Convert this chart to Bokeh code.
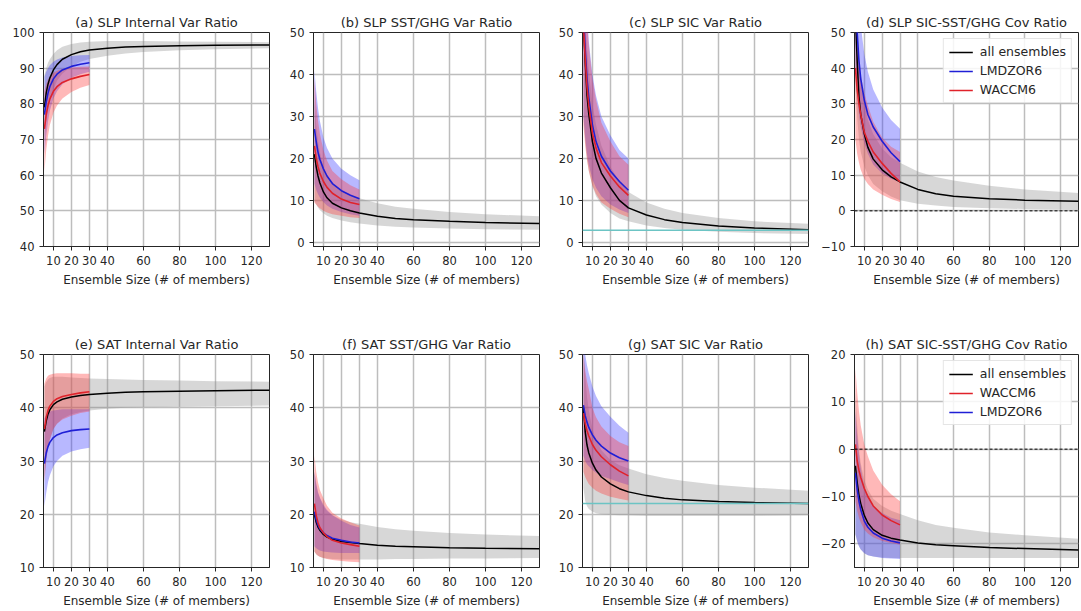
from bokeh.plotting import figure
from bokeh.layouts import row, column
from bokeh.models import FixedTicker, Legend, LegendItem, Span, Range1d
from bokeh.embed import file_html
from bokeh.resources import INLINE

# ---------------- data ----------------
X_ALL = [5, 6, 7, 8, 10, 12, 15, 20, 25, 30, 40, 50, 60, 80, 100, 130]
X_MOD = [5, 6, 7, 8, 10, 12, 15, 20, 25, 30]
X_TICKS = [10, 20, 30, 40, 60, 80, 100, 120]

TITLES = ["(a) SLP Internal Var Ratio", "(b) SLP SST/GHG Var Ratio",
          "(c) SLP SIC Var Ratio", "(d) SLP SIC-SST/GHG Cov Ratio",
          "(e) SAT Internal Var Ratio", "(f) SAT SST/GHG Var Ratio",
          "(g) SAT SIC Var Ratio", "(h) SAT SIC-SST/GHG Cov Ratio"]
X_LABEL = "Ensemble Size (# of members)"
LABEL_ALL = "all ensembles"
LABEL_LMD = "LMDZOR6"
LABEL_WAC = "WACCM6"

Y_RANGES = [(40, 100), (-1, 50), (-1, 50), (-10, 50), (10, 50), (10, 50), (10, 50), (-25, 20)]
Y_TICKS = [[40, 50, 60, 70, 80, 90, 100], [0, 10, 20, 30, 40, 50], [0, 10, 20, 30, 40, 50],
           [-10, 0, 10, 20, 30, 40, 50], [10, 20, 30, 40, 50], [10, 20, 30, 40, 50],
           [10, 20, 30, 40, 50], [-20, -10, 0, 10, 20]]

C_SIC_REF = 2.9
G_SIC_REF = 22.0

# (a) SLP internal
a_all = [79, 83, 85.5, 87.2, 89.5, 91, 92.5, 93.8, 94.6, 95.1, 95.6, 95.9, 96.1, 96.3, 96.4, 96.5]
a_all_hi = [88, 90, 91.5, 92.5, 94, 95, 96, 96.8, 97.2, 97.4, 97.6, 97.6, 97.6, 97.5, 97.4, 97.3]
a_all_lo = [70, 75, 78.5, 81, 84, 86.5, 88.5, 90.5, 91.8, 92.6, 93.5, 94.1, 94.5, 95, 95.3, 95.6]
a_lmd = [77, 80.5, 83, 84.8, 87, 88.3, 89.5, 90.5, 91.1, 91.5]
a_lmd_hi = [87.5, 89, 90, 90.8, 91.8, 92.4, 93, 93.4, 93.6, 93.7]
a_lmd_lo = [66, 71, 75, 78, 81.5, 83.5, 85.5, 87.3, 88.3, 89]
a_wac = [73, 77, 79.5, 81.3, 83.5, 84.8, 86, 87, 87.7, 88.2]
a_wac_hi = [83.5, 85.5, 86.8, 87.6, 88.7, 89.3, 89.8, 90.2, 90.4, 90.5]
a_wac_lo = [61, 67, 71, 74, 77.5, 79.5, 81.5, 83.3, 84.5, 85.3]

# (b) SLP SST/GHG
b_all = [21, 18, 15.8, 14.2, 12, 10.6, 9.3, 8.2, 7.5, 7.0, 6.2, 5.7, 5.4, 5.0, 4.7, 4.5]
b_all_hi = [34, 28, 24, 21.5, 18, 16, 14, 12.3, 11.3, 10.5, 9.3, 8.5, 8.0, 7.2, 6.7, 6.2]
b_all_lo = [10, 9, 8.3, 7.7, 6.9, 6.3, 5.8, 5.2, 4.8, 4.5, 4.0, 3.7, 3.5, 3.3, 3.1, 3.0]
b_lmd = [27, 24, 21.5, 19.8, 17.5, 15.8, 14, 12.3, 11.2, 10.4]
b_lmd_hi = [41, 36, 32, 29, 25, 22.5, 20, 17.5, 16, 14.8]
b_lmd_lo = [14, 12.5, 11.5, 10.7, 9.6, 8.8, 8, 7.2, 6.7, 6.3]
b_wac = [23, 20, 18, 16.5, 14.5, 13.1, 11.7, 10.3, 9.5, 9]
b_wac_hi = [39, 33, 29, 26, 22, 19.5, 17, 15, 13.6, 12.6]
b_wac_lo = [9.5, 9, 8.5, 8.1, 7.5, 7.1, 6.7, 6.3, 6.0, 5.8]

# (c) SLP SIC
c_all = [52, 43, 35, 30.5, 24, 20, 16.5, 13, 10, 8.2, 6.5, 5.4, 4.7, 3.9, 3.4, 3.0]
c_all_hi = [60, 52, 46, 41, 33, 28, 23, 18, 14.5, 12, 9.5, 8, 7, 5.8, 5, 4.4]
c_all_lo = [30, 24, 20, 17, 13.5, 11, 9, 7, 5.7, 5, 4, 3.4, 3, 2.5, 2.2, 2.0]
c_lmd = [55, 46, 39, 34.5, 28, 24, 20.5, 17, 14.5, 12.4]
c_lmd_hi = [70, 62, 55, 48, 40, 35, 30, 25.5, 22, 20]
c_lmd_lo = [30, 25, 21, 18.5, 15, 13, 11, 9, 7.8, 7]
c_wac = [52, 44, 37, 32.5, 26, 22.5, 19, 15.8, 13.2, 11.2]
c_wac_hi = [68, 60, 53, 47, 39, 34, 28.5, 24, 20.5, 18.5]
c_wac_lo = [28, 23, 19.5, 17, 13.5, 11.5, 9.5, 8, 6.8, 6]

# (d) SLP SIC-SST/GHG cov
d_all = [55, 42, 32, 27, 21.5, 17.8, 14.5, 11.5, 9.5, 8.1, 6, 4.8, 4.1, 3.4, 3.0, 2.7]
d_all_hi = [65, 52, 43, 37, 30, 25.5, 21.5, 17.5, 15, 13.5, 11, 9.5, 8.5, 7, 6, 5]
d_all_lo = [35, 26, 20, 16.5, 12.5, 10, 7.5, 5.5, 4, 3, 2, 1.5, 1.1, 0.7, 0.5, 0.3]
d_lmd = [60, 50, 42, 37, 31, 27, 23.5, 19.5, 16.3, 13.8]
d_lmd_hi = [75, 66, 58, 52, 44, 39, 34, 29, 25.5, 23]
d_lmd_lo = [40, 33, 27, 23.5, 19, 16, 13, 10.5, 9, 8]
d_wac = [40, 34, 30, 27, 22, 19.5, 16.5, 13.3, 10.5, 8.1]
d_wac_hi = [55, 48, 42, 38, 33, 29.5, 25, 20.5, 18, 16.5]
d_wac_lo = [20, 16, 13.5, 11.5, 9, 7.5, 6, 4.5, 3.3, 2.5]

# (e) SAT internal
e_all = [35.5, 37.5, 38.8, 39.6, 40.6, 41.1, 41.6, 42, 42.3, 42.5, 42.7, 42.9, 43, 43.1, 43.2, 43.3]
e_all_hi = [44, 44.8, 45.3, 45.6, 45.8, 45.8, 45.8, 45.7, 45.6, 45.5, 45.4, 45.3, 45.2, 45.1, 45, 44.9]
e_all_lo = [27, 30, 32.5, 34, 36, 37, 38, 38.8, 39.2, 39.5, 39.8, 40, 40.1, 40.2, 40.3, 40.4]
e_lmd = [29.5, 31.5, 32.7, 33.5, 34.4, 34.9, 35.3, 35.7, 35.9, 36]
e_lmd_hi = [38, 38.7, 39.1, 39.3, 39.5, 39.6, 39.7, 39.7, 39.7, 39.7]
e_lmd_lo = [21.5, 24, 26, 27.3, 29, 30, 31, 31.8, 32.2, 32.5]
e_wac = [36, 38.2, 39.5, 40.3, 41.2, 41.7, 42.1, 42.5, 42.8, 43]
e_wac_hi = [44.5, 45.5, 46, 46.2, 46.4, 46.5, 46.5, 46.5, 46.4, 46.4]
e_wac_lo = [26, 30, 32.5, 34, 36, 37, 37.8, 38.5, 39, 39.3]

# (f) SAT SST/GHG
f_all = [20, 18.5, 17.6, 17, 16.2, 15.7, 15.3, 14.9, 14.7, 14.5, 14.2, 14.0, 13.9, 13.7, 13.6, 13.5]
f_all_hi = [28, 25.5, 24, 23, 21.5, 20.6, 19.8, 19, 18.5, 18.2, 17.6, 17.2, 16.9, 16.5, 16.2, 15.9]
f_all_lo = [13, 12.5, 12.2, 12, 11.8, 11.7, 11.6, 11.5, 11.5, 11.5, 11.5, 11.6, 11.6, 11.7, 11.7, 11.8]
f_lmd = [20.5, 19, 18, 17.3, 16.5, 16, 15.5, 15.1, 14.8, 14.6]
f_lmd_hi = [28, 25.8, 24.2, 23.2, 21.8, 20.8, 19.8, 18.8, 18, 17.5]
f_lmd_lo = [14, 13.6, 13.4, 13.2, 13, 12.9, 12.8, 12.7, 12.7, 12.7]
f_wac = [22, 19.8, 18.4, 17.5, 16.5, 15.8, 15.1, 14.6, 14.3, 14.0]
f_wac_hi = [31, 28, 26, 24.6, 23, 21.6, 20.3, 19.2, 18.5, 17.9]
f_wac_lo = [13, 12.5, 12.2, 12, 11.8, 11.6, 11.4, 11.2, 11.1, 11.0]

# (g) SAT SIC
g_all = [40, 35.5, 33, 31.5, 29.6, 28.3, 27, 25.7, 24.8, 24.2, 23.5, 23.0, 22.7, 22.4, 22.2, 22.0]
g_all_hi = [52, 46, 42, 39.5, 36, 34, 32, 30.2, 29.2, 28.6, 27.5, 26.8, 26.3, 25.5, 25, 24.4]
g_all_lo = [25, 22.5, 21.5, 21, 20.5, 20.2, 20, 19.9, 19.8, 19.8, 19.7, 19.7, 19.7, 19.7, 19.7, 19.8]
g_lmd = [40.5, 38.5, 37.3, 36.3, 34.9, 33.9, 32.8, 31.5, 30.6, 30]
g_lmd_hi = [52, 50, 48, 46.5, 44, 42.2, 40.3, 38.3, 36.6, 35.3]
g_lmd_lo = [31, 30, 29.4, 29, 28.3, 27.8, 27.2, 26.6, 26, 25.5]
g_wac = [39, 37, 35.7, 34.7, 33.1, 32, 30.8, 29.3, 28.1, 27.2]
g_wac_hi = [50, 47, 45, 43.5, 40, 38.2, 36.5, 34.7, 33.5, 32.8]
g_wac_lo = [28, 27, 26.3, 25.7, 25, 24.4, 23.9, 23.3, 22.9, 22.6]

# (h) SAT SIC-SST/GHG cov
h_all = [-3.5, -7, -9.7, -11.5, -14, -15.6, -17, -18.2, -18.8, -19.2, -19.8, -20.2, -20.4, -20.8, -21, -21.3]
h_all_hi = [12, 5, 0, -3, -6.5, -8.5, -10.5, -12, -13, -13.7, -15, -16, -16.6, -17.6, -18.2, -18.9]
h_all_lo = [-18, -19.5, -20.5, -21.2, -22, -22.4, -22.7, -22.9, -23, -23, -23, -23, -23, -23, -23, -23]
h_lmd = [-5, -8.5, -11, -12.8, -15.2, -16.5, -17.7, -18.8, -19.4, -19.8]
h_lmd_hi = [8, 3, -1, -4, -8, -10, -12, -13.5, -14.5, -15]
h_lmd_lo = [-18, -19.5, -20.5, -21.2, -22, -22.4, -22.7, -23, -23.1, -23.2]
h_wac = [1, -2.5, -4.5, -6, -8.3, -10, -12, -13.9, -15.1, -16]
h_wac_hi = [17, 12, 8, 5, 1, -1.5, -4.5, -7.5, -9.5, -11]
h_wac_lo = [-11, -13, -14.5, -15.5, -17, -17.8, -18.6, -19.4, -19.8, -20.2]

# ---------------- style ----------------
FONT = "DejaVu Sans"
TXT = "#262626"
C_ALL = "black"
C_LMD = "#1f1fd6"
C_WAC = "#e0222a"
F_ALL = "#8c8c8c"
F_LMD = "#3333ff"
F_WAC = "#ff3333"
C_CYAN = "#6cc4c4"

PANELS = [
    (a_all, a_all_lo, a_all_hi, a_lmd, a_lmd_lo, a_lmd_hi, a_wac, a_wac_lo, a_wac_hi),
    (b_all, b_all_lo, b_all_hi, b_lmd, b_lmd_lo, b_lmd_hi, b_wac, b_wac_lo, b_wac_hi),
    (c_all, c_all_lo, c_all_hi, c_lmd, c_lmd_lo, c_lmd_hi, c_wac, c_wac_lo, c_wac_hi),
    (d_all, d_all_lo, d_all_hi, d_lmd, d_lmd_lo, d_lmd_hi, d_wac, d_wac_lo, d_wac_hi),
    (e_all, e_all_lo, e_all_hi, e_lmd, e_lmd_lo, e_lmd_hi, e_wac, e_wac_lo, e_wac_hi),
    (f_all, f_all_lo, f_all_hi, f_lmd, f_lmd_lo, f_lmd_hi, f_wac, f_wac_lo, f_wac_hi),
    (g_all, g_all_lo, g_all_hi, g_lmd, g_lmd_lo, g_lmd_hi, g_wac, g_wac_lo, g_wac_hi),
    (h_all, h_all_lo, h_all_hi, h_lmd, h_lmd_lo, h_lmd_hi, h_wac, h_wac_lo, h_wac_hi),
]

WIDTHS = [278, 270, 270, 262]
B_LEFT = [43, 35, 34, 34]
B_RIGHT = [9, 9, 10, 2]


def minus(v):
    return ("\u2212" + str(abs(v))) if v < 0 else str(v)


def make(i):
    col = i % 4
    top = i < 4
    (y_all, y_all_lo, y_all_hi, y_lmd, y_lmd_lo, y_lmd_hi,
     y_wac, y_wac_lo, y_wac_hi) = PANELS[i]
    p = figure(width=WIDTHS[col], height=308 if top else 303,
               x_range=Range1d(4.5, 130), y_range=Range1d(*Y_RANGES[i]),
               output_backend="svg", toolbar_location=None, title=TITLES[i],
               min_border_left=B_LEFT[col], min_border_right=B_RIGHT[col],
               min_border_top=32 if top else 46, min_border_bottom=62 if top else 44)
    p.title.align = "center"
    p.title.text_font = FONT
    p.title.text_font_size = "13px"
    p.title.text_font_style = "normal"
    p.title.text_color = TXT
    p.title.standoff = 5
    p.outline_line_color = TXT
    p.outline_line_alpha = 1
    p.outline_line_width = 1
    p.background_fill_color = "white"
    p.border_fill_color = "white"

    for ax in (p.xaxis[0], p.yaxis[0]):
        ax.major_label_text_font = FONT
        ax.major_label_text_font_size = "11.5px"
        ax.major_label_text_color = TXT
        ax.axis_line_color = TXT
        ax.major_tick_line_color = TXT
        ax.major_tick_out = 4
        ax.major_tick_in = 0
        ax.minor_tick_out = 0
        ax.minor_tick_in = 0
    p.xaxis.ticker = FixedTicker(ticks=X_TICKS)
    p.xaxis.major_label_standoff = 5
    p.xaxis.axis_label = X_LABEL
    p.xaxis.axis_label_text_font = FONT
    p.xaxis.axis_label_text_font_size = "12px"
    p.xaxis.axis_label_text_font_style = "normal"
    p.xaxis.axis_label_text_color = TXT
    p.xaxis.axis_label_standoff = 5
    p.yaxis.ticker = FixedTicker(ticks=Y_TICKS[i])
    p.yaxis.major_label_standoff = 5
    p.yaxis.major_label_overrides = {t: minus(t) for t in Y_TICKS[i]}

    for g in (p.xgrid[0], p.ygrid[0]):
        g.grid_line_color = "#bdbdbd"
        g.grid_line_width = 1.5

    p.varea(x=X_ALL, y1=y_all_lo, y2=y_all_hi, fill_color=F_ALL, fill_alpha=0.35)
    p.varea(x=X_MOD, y1=y_lmd_lo, y2=y_lmd_hi, fill_color=F_LMD, fill_alpha=0.35)
    p.varea(x=X_MOD, y1=y_wac_lo, y2=y_wac_hi, fill_color=F_WAC, fill_alpha=0.35)

    if i == 2:
        p.add_layout(Span(location=C_SIC_REF, dimension="width", line_color=C_CYAN, line_width=1.5))
    if i == 6:
        p.add_layout(Span(location=G_SIC_REF, dimension="width", line_color=C_CYAN, line_width=1.5))
    if i in (3, 7):
        p.add_layout(Span(location=0, dimension="width", line_color="black",
                          line_width=1, line_dash="3 2"))

    r_all = p.line(X_ALL, y_all, line_color=C_ALL, line_width=1.5)
    r_lmd = p.line(X_MOD, y_lmd, line_color=C_LMD, line_width=1.6)
    r_wac = p.line(X_MOD, y_wac, line_color=C_WAC, line_width=1.6)

    if i in (3, 7):
        if i == 3:
            items = [LegendItem(label=LABEL_ALL, renderers=[r_all]),
                     LegendItem(label=LABEL_LMD, renderers=[r_lmd]),
                     LegendItem(label=LABEL_WAC, renderers=[r_wac])]
        else:
            items = [LegendItem(label=LABEL_ALL, renderers=[r_all]),
                     LegendItem(label=LABEL_WAC, renderers=[r_wac]),
                     LegendItem(label=LABEL_LMD, renderers=[r_lmd])]
        leg = Legend(items=items, location="top_right")
        leg.label_text_font = FONT
        leg.label_text_font_size = "12.5px"
        leg.label_text_color = TXT
        leg.border_line_color = "#cccccc"
        leg.border_line_width = 1
        leg.background_fill_alpha = 0.85
        leg.glyph_width = 24
        leg.glyph_height = 14
        leg.label_height = 14
        leg.spacing = 4
        leg.padding = 5
        leg.margin = 6
        leg.label_standoff = 7
        p.add_layout(leg)
    return p


figs = [make(i) for i in range(8)]
layout = column(row(*figs[:4]), row(*figs[4:]))
open("out.html", "w").write(file_html(layout, INLINE))
